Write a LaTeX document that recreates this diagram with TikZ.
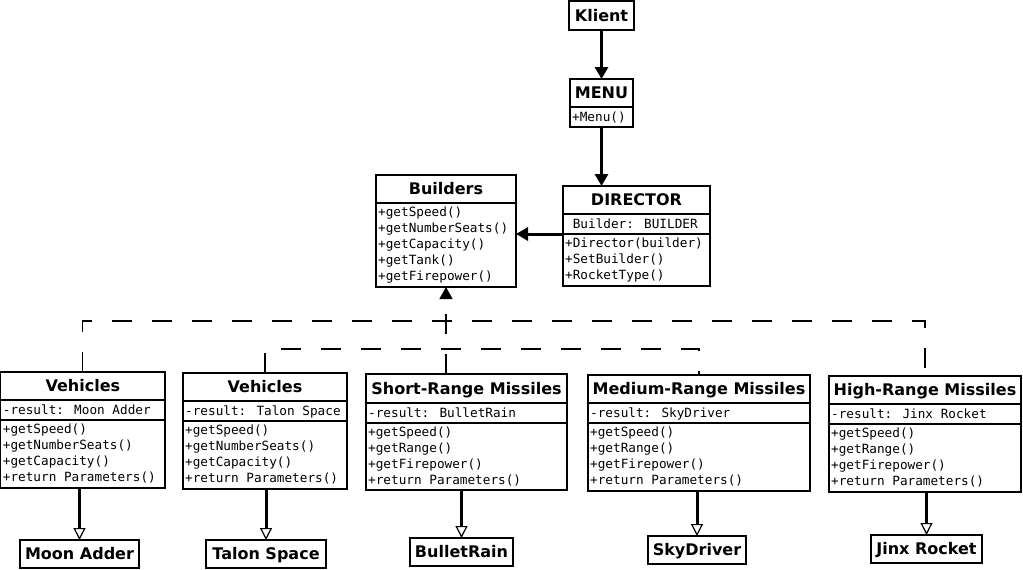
\documentclass[tikz,border=0pt]{standalone}
\usepackage{fontspec}
\setmainfont{DejaVu Sans}
\newfontfamily\monof{DejaVu Sans Mono}
\usetikzlibrary{arrows.meta,fit}

\newcommand\umlbox[5]{% name,x1,y1,x2,y2
  \coordinate (#1-nw) at (#2,#3);
  \coordinate (#1-se) at (#4,#5);
  \node[frame, fit=(#1-nw)(#1-se)] (#1) {};
}
\newcommand\umltitle[6]{% name,x1,y1,x2,ybottom,text
  \node[titletext] (#1-title) at ({(#2+#4)/2},{(#3+#5)/2+5.5}) {#6};
}
\newcommand\umldiv[3]{% x1,x2,y
  \draw[divider] (#1,#3) -- (#2,#3);
}
\newcommand\umlattr[4]{% name,x1,ycenter,text
  \node[membertext] (#1-attr) at ({#2+2},{#3+4.5}) {#4};
}
\newcommand\umlrows[4]{% name,x1,first row center,list
  \foreach \t [count=\i] in {#4} {
    \node[membertext] (#1-row\i) at ({#2+2},{#3+4.5+16*(\i-1)}) {\t};
  }
}

\begin{document}
\begin{tikzpicture}[x=1pt,y=-1pt,
  frame/.style={draw, line width=1.1pt, inner sep=0pt, outer sep=0pt},
  titletext/.style={font=\bfseries\fontsize{16}{19}\selectfont, inner sep=0pt, anchor=base},
  membertext/.style={font=\monof\fontsize{12.7}{16}\selectfont, inner sep=0pt, anchor=base west},
  divider/.style={line width=1.1pt},
  flow/.style={line width=3pt, -{Triangle[width=13pt,length=12pt]}},
  realize/.style={line width=3pt, -{Triangle[open,width=12pt,length=12pt,line width=1.2pt]}},
  implements/.style={line width=1.2pt, dash pattern=on 20pt off 20pt},
  implarrow/.style={implements, -{Triangle[width=13pt,length=12pt]}}
]
\useasboundingbox (0,0) rectangle (1023,570);

% Klient
\umlbox{klient}{569}{1}{634}{30}
\umltitle{klient}{569}{1}{634}{30}{Klient}

% MENU
\umlbox{menu}{570}{79}{633}{127}
\umltitle{menu}{570}{79}{633}{107}{MENU}
\umldiv{570}{633}{107}
\umlrows{menu}{570}{117}{+Menu()}

% DIRECTOR
\umlbox{director}{563}{186}{710}{286}
\umltitle{director}{563}{186}{710}{214}{DIRECTOR}
\umldiv{563}{710}{214}
\umldiv{563}{710}{234}
\coordinate (director-d2) at (563,234);
\umlattr{director}{563}{224}{\ Builder: BUILDER}
\umlrows{director}{563}{243}{+Director(builder),+SetBuilder(),+RocketType()}

% Builders
\umlbox{builders}{376}{175}{516}{287}
\umltitle{builders}{376}{175}{516}{203}{Builders}
\umldiv{376}{516}{203}
\umlrows{builders}{376}{212}{+getSpeed(),+getNumberSeats(),+getCapacity(),+getTank(),+getFirepower()}

% Vehicles 1
\umlbox{v1}{0.7}{372}{165}{488}
\umltitle{v1}{0.7}{372}{165}{400}{Vehicles}
\umldiv{0.7}{165}{400}
\umldiv{0.7}{165}{420}
\umlattr{v1}{0.7}{410}{-result: Moon Adder}
\umlrows{v1}{0.7}{429}{+getSpeed(),+getNumberSeats(),+getCapacity(),+return Parameters()}

% Vehicles 2
\umlbox{v2}{183}{373}{347}{489}
\umltitle{v2}{183}{373}{347}{401}{Vehicles}
\umldiv{183}{347}{401}
\umldiv{183}{347}{421}
\umlattr{v2}{183}{411}{-result: Talon Space}
\umlrows{v2}{183}{430}{+getSpeed(),+getNumberSeats(),+getCapacity(),+return Parameters()}

% Short-Range
\umlbox{sr}{366}{374}{567}{490}
\umltitle{sr}{366}{374}{567}{403}{Short-Range Missiles}
\umldiv{366}{567}{403}
\umldiv{366}{567}{423}
\umlattr{sr}{366}{413}{-result: BulletRain}
\umlrows{sr}{366}{432}{+getSpeed(),+getRange(),+getFirepower(),+return Parameters()}

% Medium-Range
\umlbox{mr}{588}{375}{810}{491}
\umltitle{mr}{588}{375}{810}{403}{Medium-Range Missiles}
\umldiv{588}{810}{403}
\umldiv{588}{810}{423}
\umlattr{mr}{588}{413}{-result: SkyDriver}
\umlrows{mr}{588}{432}{+getSpeed(),+getRange(),+getFirepower(),+return Parameters()}

% High-Range
\umlbox{hr}{829}{376}{1021}{492}
\umltitle{hr}{829}{376}{1021}{404}{High-Range Missiles}
\umldiv{829}{1021}{404}
\umldiv{829}{1021}{424}
\umlattr{hr}{829}{414}{-result: Jinx Rocket}
\umlrows{hr}{829}{433}{+getSpeed(),+getRange(),+getFirepower(),+return Parameters()}

% Products
\umlbox{moon}{20}{540}{139}{568}
\umltitle{moon}{20}{540}{139}{568}{Moon Adder}
\umlbox{talon}{206}{540}{326}{568}
\umltitle{talon}{206}{540}{326}{568}{Talon Space}
\umlbox{bullet}{410}{538}{513}{566}
\umltitle{bullet}{410}{538}{513}{566}{BulletRain}
\umlbox{sky}{648}{536}{746}{564}
\umltitle{sky}{648}{536}{746}{564}{SkyDriver}
\umlbox{jinx}{871}{535}{982}{563}
\umltitle{jinx}{871}{535}{982}{563}{Jinx Rocket}

% Connectors
\draw[flow] (klient) -- (menu);
\draw[flow] (menu.south) -- (menu.south |- director.north);
\draw[flow] (director-d2) -- (director-d2 -| builders.east);

\draw[realize] (moon.north |- v1.south) -- (moon.north);
\draw[realize] (talon.north |- v2.south) -- (talon.north);
\draw[realize] (bullet.north |- sr.south) -- (bullet.north);
\draw[realize] (sky.north |- mr.south) -- (sky.north);
\draw[realize] (jinx.north |- hr.south) -- (jinx.north);

\coordinate (lvl1) at (0,321);
\coordinate (lvl2) at (0,349);
\draw[implements] (v1.north) -- (v1.north |- lvl1) -| (hr.north);
\draw[implements] (v2.north) -- (v2.north |- lvl2) -| (mr.north);
\draw[implarrow] (builders.south |- sr.north) -- (builders.south);
\end{tikzpicture}
\end{document}
